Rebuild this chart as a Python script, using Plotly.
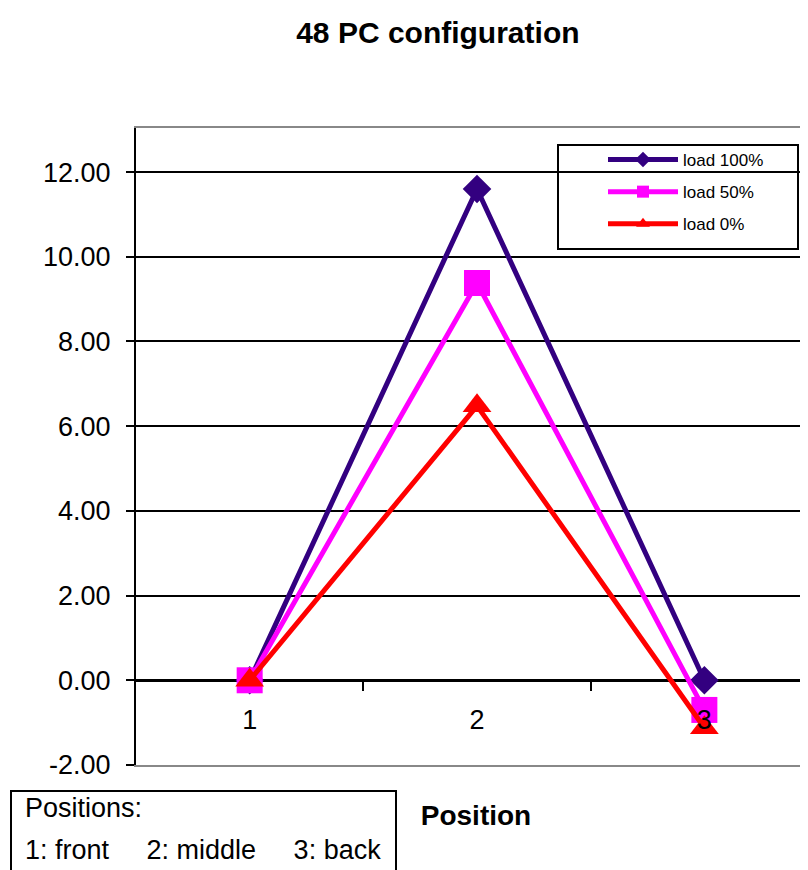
import plotly.graph_objects as go

positions = [1, 2, 3]
position_labels = ["1", "2", "3"]
load_100 = [0.0, 11.6, 0.0]
load_50 = [0.0, 9.38, -0.70]
load_0 = [0.0, 6.48, -1.12]
series_names = ["load 100%", "load 50%", "load 0%"]
y_ticks = [-2, 0, 2, 4, 6, 8, 10, 12]

XR = [0.5, 3.491]
YR = [-2, 13.04]
FONT = "Liberation Sans, Arial, sans-serif"

# layout geometry (screen pixels; page body adds ~7px offset)
OFF = 7
L, T, B = 135 - OFF, 127 - OFF, 870 - (764 - OFF)
PW = 808 - L
PH = 870 - T - B


def px(X):
    return (X - OFF - L) / PW


def py(Y):
    return (870 - B - (Y - OFF)) / PH


fig = go.Figure()
styles = [
    dict(color="#330080", symbol="diamond", size=22),
    dict(color="#FF00FF", symbol="square", size=26),
    dict(color="#FF0000", symbol="triangle-up", size=25),
]
for i, (name, vals, st) in enumerate(zip(series_names, [load_100, load_50, load_0], styles)):
    fig.add_trace(go.Scatter(
        x=positions, y=vals, name=name, mode="lines+markers",
        line=dict(color=st["color"], width=5),
        marker=dict(color=st["color"], symbol=st["symbol"], size=st["size"]),
        xaxis="x", yaxis="y", legendgroup=f"g{i}",
    ))

y0frac = (0 - YR[0]) / (YR[1] - YR[0])

fig.update_layout(
    width=808, height=870,
    margin=dict(l=L, r=0, t=T, b=B, autoexpand=False),
    paper_bgcolor="white", plot_bgcolor="white",
    font=dict(family=FONT, color="black"),
    title=dict(text="<b>48 PC configuration</b>", x=0.532, xanchor="center",
               y=0.972, yanchor="middle", font=dict(size=30, family=FONT)),
    showlegend=True,
    legend=dict(x=px(602), y=py(141), xanchor="left", yanchor="top",
                bgcolor="rgba(0,0,0,0)", borderwidth=0,
                font=dict(size=17, family=FONT), itemwidth=70,
                itemsizing="constant", tracegroupgap=7),
    yaxis=dict(range=YR, tickvals=y_ticks, ticktext=[f"{v:.2f}" for v in y_ticks],
               ticks="outside", ticklen=8, tickwidth=2, tickcolor="black",
               showline=True, linecolor="black", linewidth=2,
               showgrid=True, gridcolor="black", gridwidth=1.5,
               zeroline=True, zerolinecolor="black", zerolinewidth=3,
               tickfont=dict(size=27, family=FONT), ticklabelstandoff=10,
               automargin=False),
    # tick marks on the zero line
    xaxis=dict(range=XR, domain=[0, 1], anchor="free", position=y0frac,
               tickvals=[1.5, 2.5, 3.5], ticks="outside", ticklen=10,
               tickwidth=2, tickcolor="black", showticklabels=False,
               showgrid=False, zeroline=False, showline=False, automargin=False),
    # category labels below the zero line
    xaxis2=dict(range=XR, overlaying="x", anchor="free", position=y0frac,
                tickvals=positions, ticktext=position_labels, ticks="",
                showgrid=False, zeroline=False, showline=False,
                tickfont=dict(size=27, family=FONT), ticklabelstandoff=21,
                automargin=False),
    # plot frame + axis title
    xaxis3=dict(range=XR, overlaying="x", anchor="y", side="bottom",
                showticklabels=False, ticks="", showgrid=False, zeroline=False,
                showline=True, mirror=True, linecolor="#888888", linewidth=2,
                automargin=False,
                title=dict(text="<b>Position</b>", standoff=39,
                           font=dict(size=28, family=FONT))),
)

# invisible traces binding the overlay axes
fig.add_trace(go.Scatter(x=[None], y=[None], xaxis="x2", yaxis="y", showlegend=False, hoverinfo="skip"))
fig.add_trace(go.Scatter(x=[None], y=[None], xaxis="x3", yaxis="y", showlegend=False, hoverinfo="skip"))

# legend frame
fig.add_shape(type="rect", xref="paper", yref="paper",
              x0=px(557), x1=px(797), y0=py(248), y1=py(144),
              line=dict(color="black", width=2), fillcolor="rgba(0,0,0,0)", layer="above")

# positions text box
fig.add_shape(type="rect", xref="paper", yref="paper",
              x0=px(10), x1=px(395), y0=py(900), y1=py(790),
              line=dict(color="black", width=2), fillcolor="white")
fig.add_annotation(xref="paper", yref="paper", x=px(22), y=py(807),
                   xanchor="left", yanchor="middle", showarrow=False,
                   text="Positions:", font=dict(size=27, family=FONT))
nb = "\u00a0"
fig.add_annotation(xref="paper", yref="paper", x=px(22), y=py(849),
                   xanchor="left", yanchor="middle", showarrow=False,
                   text=f"1: front{nb*5}2: middle{nb*5}3: back",
                   font=dict(size=27, family=FONT))

fig.write_html("out.html")
